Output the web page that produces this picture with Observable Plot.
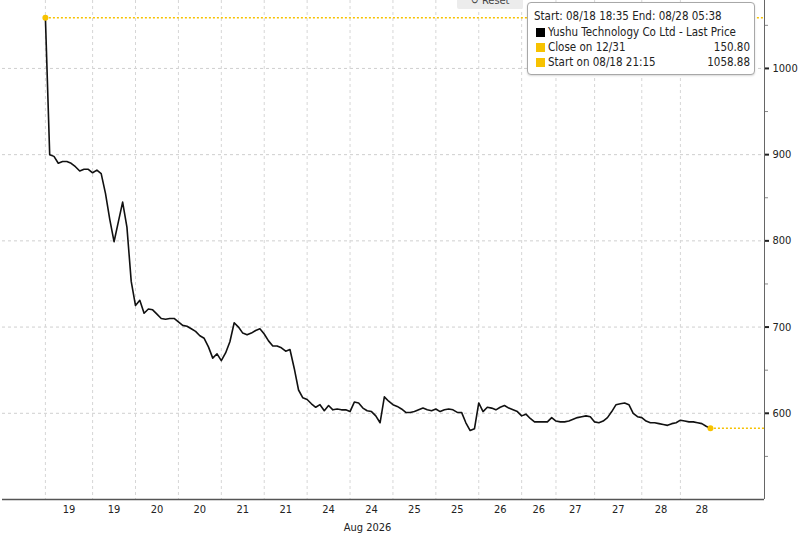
<!DOCTYPE html>
<html>
<head>
<meta charset="utf-8">
<script src="https://cdn.jsdelivr.net/npm/d3@7"></script>
<script src="https://cdn.jsdelivr.net/npm/@observablehq/plot@0.6"></script>
<style>
  body { margin: 0; background: #fff; font-family: "DejaVu Sans Condensed", "DejaVu Sans", sans-serif; }
  #chart { position: relative; width: 800px; height: 543px; overflow: hidden; }
  .reset { position: absolute; left: 457px; top: -8px; width: 66px; height: 17px; background: #ececec;
           border-radius: 2px; font-size: 11px; line-height: 17px; color: #444; text-align: center; }
  .legend { position: absolute; left: 527px; top: 2px; width: 226px; height: 71px; background: #fff;
            border: 1px solid #a8a8a8; border-radius: 4px; box-shadow: 0 1px 2px rgba(0,0,0,0.15);
            font-size: 11.5px; color: #222; }
  .legend .row { position: absolute; left: 6px; right: 4px; height: 15px; line-height: 15px; white-space: nowrap; }
  .legend .sw { position: absolute; left: 2px; top: 3px; width: 9px; height: 9px; }
  .legend .lab { position: absolute; left: 14px; }
  .legend .val { position: absolute; right: 0; }
</style>
</head>
<body>
<div id="chart"></div>
<script>
// Yushu Technology Co Ltd - last price, one point per interval in trading time
const prices = [
  1058.88, 900, 898, 890, 892, 892, 890, 886, 881, 883,
  883, 879, 882, 878, 855, 825, 799, 822, 845, 816,
  753, 725, 731, 716, 721, 720, 715, 710, 709, 710,
  710, 706, 702, 701, 698, 695, 690, 687, 677, 664,
  669, 661, 670, 683, 705, 700, 693, 691, 693, 696,
  698, 692, 684, 678, 678, 676, 672, 674, 652, 627,
  618, 616, 611, 607, 610, 603, 609, 604, 605, 604,
  604, 602, 613, 612, 606, 603, 602, 597, 589, 619,
  614, 610, 608, 605, 601, 601, 602, 604, 606, 604,
  603, 605, 602, 604, 605, 604, 601, 601, 589, 580,
  582, 612, 602, 607, 606, 604, 607, 609, 606, 604,
  602, 597, 599, 594, 590, 590, 590, 590, 595, 591,
  590, 590, 591, 593, 595, 596, 597, 596, 590, 589,
  591, 595, 602, 610, 611, 612, 610, 600, 596, 595,
  591, 589, 589, 588, 587, 586, 588, 589, 592, 591,
  590, 590, 589, 588, 585, 582.5
]

// half-day sessions: number of points and day label
const sessionLengths = [11, 10, 10, 10, 10, 10, 10, 10, 10, 10, 10, 8, 9, 11, 9, 10]
const sessionLabels = ['19', '19', '20', '20', '21', '21', '24', '24', '25', '25', '26', '26', '27', '27', '28', '28']

const yMajor = [600, 700, 800, 900, 1000]
const yMinor = [550, 650, 750, 850, 950, 1050]

const startValue = 1058.88
const closeValue = 150.80

const yellow = '#f7c200'

const data = prices.map((v, i) => ({ i, v }))
const last = data[data.length - 1]

// session boundaries and centres (in point index units)
const bounds = [0]
sessionLengths.forEach(n => bounds.push(bounds[bounds.length - 1] + n))
const mids = sessionLengths.map((n, k) => bounds[k] + n / 2)
const xMax = 167.6

const chart = Plot.plot({
  width: 800,
  height: 543,
  marginTop: 0,
  marginBottom: 44,
  marginLeft: 2,
  marginRight: 36,
  style: { fontFamily: '"DejaVu Sans Condensed", "DejaVu Sans", sans-serif', fontSize: '11px', color: '#222', background: '#fff' },
  x: { domain: [-10, xMax], axis: null },
  y: { domain: [500, 1078.8], axis: null },
  marks: [
    Plot.gridY(yMajor, { stroke: '#cfcfcf', strokeOpacity: 1, strokeDasharray: '3,3' }),
    Plot.gridX(bounds.slice(0, -1), { stroke: '#d6d6d6', strokeOpacity: 1, strokeDasharray: '3,3' }),
    Plot.axisX(mids, { label: null, tickSize: 0, tickPadding: 6, tickFormat: (d, k) => sessionLabels[k], fontSize: 11 }),
    Plot.text(['Aug 2026'], { frameAnchor: 'bottom', dy: 31, dx: -16, fontSize: 11, fill: '#222' }),
    Plot.axisY(yMinor, { anchor: 'right', label: null, tickSize: 3, tickFormat: () => '', stroke: '#888' }),
    Plot.axisY(yMajor, { anchor: 'right', label: null, tickSize: 4, tickPadding: 4, strokeWidth: 2, fontSize: 11, tickFormat: d => String(d) }),
    Plot.ruleX([xMax], { stroke: '#666', strokeWidth: 1 }),
    Plot.ruleY([500], { stroke: '#555', strokeWidth: 1.5 }),
    Plot.ruleY([startValue], { x1: 0, x2: xMax, stroke: yellow, strokeWidth: 1.5, strokeDasharray: '2,2' }),
    Plot.ruleY([last.v], { x1: last.i, x2: xMax, stroke: yellow, strokeWidth: 1.5, strokeDasharray: '2,2' }),
    Plot.line(data, { x: 'i', y: 'v', stroke: '#111', strokeWidth: 1.6 }),
    Plot.dot([data[0], last], { x: 'i', y: 'v', r: 3, fill: yellow, stroke: 'none' })
  ]
})

const root = d3.select('#chart')
root.append(() => chart)

root.append('div').attr('class', 'reset').text('\u21bb Reset')

const legend = root.append('div').attr('class', 'legend')
const rows = [
  { top: 6, label: 'Start: 08/18 18:35 End: 08/28 05:38' },
  { top: 22, label: 'Yushu Technology Co Ltd - Last Price', swatch: '#000' },
  { top: 36.5, label: 'Close on 12/31', swatch: yellow, value: closeValue.toFixed(2) },
  { top: 51.5, label: 'Start on 08/18 21:15', swatch: yellow, value: startValue.toFixed(2) }
]
rows.forEach(r => {
  const row = legend.append('div').attr('class', 'row').style('top', r.top + 'px')
  if (r.swatch) {
    row.append('div').attr('class', 'sw').style('background', r.swatch)
    row.append('span').attr('class', 'lab').text(r.label)
  } else {
    row.append('span').text(r.label)
  }
  if (r.value) row.append('span').attr('class', 'val').text(r.value)
})
</script>
</body>
</html>
